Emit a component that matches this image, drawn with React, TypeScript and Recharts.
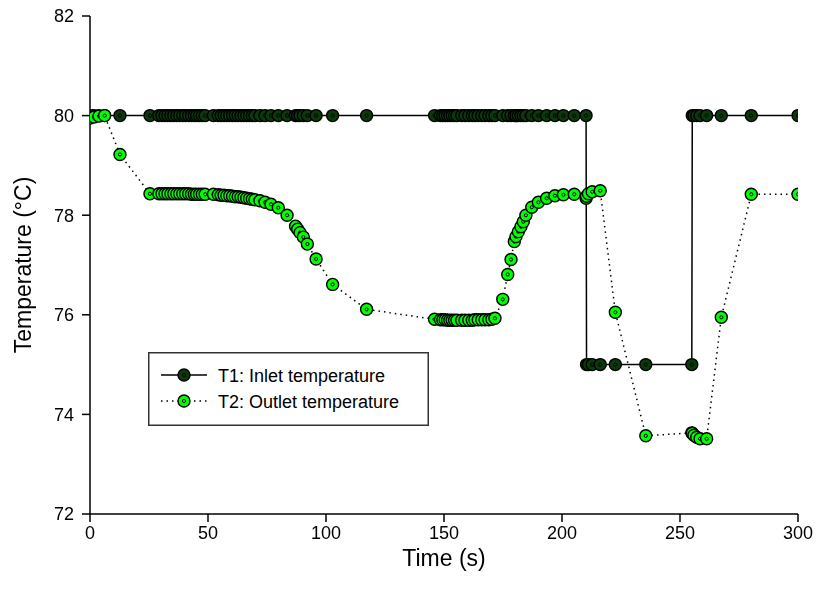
import React from 'react';
import { LineChart, Line, XAxis, YAxis, Legend, Label } from 'recharts';

// Shared sampling times (s)
const times = [
  0, 1.7, 3.8, 6.2, 12.7, 25.4,
  29.2, 30.5, 31.8, 33.0, 34.3, 35.5, 36.8, 38.0, 39.3, 40.5, 41.8, 43.0, 44.2, 45.2, 46.4, 47.6, 48.8,
  52.3,
  54.4, 55.6, 56.8, 58.0, 59.2, 60.4, 61.6, 62.8, 64.0, 65.2, 66.4, 67.6, 68.8, 69.9,
  72.0, 74.2, 76.7, 79.8, 83.5, 87.1, 88.0, 89.0, 90.4, 92.1, 95.8, 102.8, 117.2,
  146.0, 148.5, 149.5, 150.5, 151.5, 152.5, 153.5, 154.5, 155.5, 157.5, 158.9, 160.5, 162.0, 163.1, 164.5, 166.0, 167.4, 169.0, 170.3, 171.6,
  174.9, 177.0, 178.4, 179.8, 180.5, 181.5, 182.6, 183.6, 184.7, 187.2, 190.0, 193.5, 197.0, 200.6, 205.2, 210.2,
  210.4, 211.2, 212.8, 216.2, 222.6, 235.5, 255.0,
  255.2, 255.9, 257.1, 258.5, 261.3, 267.5, 280.2, 300,
];

// T1: Inlet temperature (°C)
const inletTemps = [
  80, 80, 80, 80, 80, 80,
  80, 80, 80, 80, 80, 80, 80, 80, 80, 80, 80, 80, 80, 80, 80, 80, 80,
  80,
  80, 80, 80, 80, 80, 80, 80, 80, 80, 80, 80, 80, 80, 80,
  80, 80, 80, 80, 80, 80, 80, 80, 80, 80, 80, 80, 80,
  80, 80, 80, 80, 80, 80, 80, 80, 80, 80, 80, 80, 80, 80, 80, 80, 80, 80, 80, 80,
  80, 80, 80, 80, 80, 80, 80, 80, 80, 80, 80, 80, 80, 80, 80, 80,
  75, 75, 75, 75, 75, 75, 75,
  80, 80, 80, 80, 80, 80, 80, 80,
];

// T2: Outlet temperature (°C)
const outletTemps = [
  79.95, 79.97, 79.99, 80.0, 79.22, 78.43,
  78.43, 78.43, 78.43, 78.43, 78.43, 78.43, 78.43, 78.43, 78.43, 78.43, 78.43, 78.42, 78.42, 78.42, 78.42, 78.42, 78.42,
  78.42,
  78.41, 78.40, 78.40, 78.39, 78.39, 78.38, 78.37, 78.37, 78.36, 78.35, 78.34, 78.33, 78.32, 78.31,
  78.29, 78.26, 78.22, 78.15, 78.0, 77.78, 77.72, 77.65, 77.56, 77.42, 77.12, 76.61, 76.11,
  75.91, 75.9, 75.9, 75.9, 75.89, 75.89, 75.89, 75.89, 75.89, 75.89, 75.89, 75.89, 75.89, 75.9, 75.9, 75.9, 75.9, 75.9, 75.91, 75.93,
  76.31, 76.81, 77.11, 77.47, 77.57, 77.67, 77.77, 77.87, 78.0, 78.16, 78.26, 78.34, 78.39, 78.41, 78.42, 78.34,
  78.38, 78.43, 78.47, 78.49, 76.05, 73.57, 73.63,
  73.62, 73.58, 73.54, 73.51, 73.51, 75.95, 78.42, 78.42,
];

const xTicks = [0, 50, 100, 150, 200, 250, 300];
const yTicks = [72, 74, 76, 78, 80, 82];
const seriesNames = ['T1: Inlet temperature', 'T2: Outlet temperature'];
const xTitle = 'Time (s)';
const yTitle = 'Temperature (°C)';

const data = times.map((t, i) => ({ time: t, t1: inletTemps[i], t2: outletTemps[i] }));

const T1_COLOR = '#0a3a0a';
const T2_COLOR = '#00ff00';
const FONT = '"Liberation Sans", Arial, Helvetica, sans-serif';

function Marker({ cx, cy, fill }: { cx: number; cy: number; fill: string }) {
  return (
    <g>
      <circle cx={cx} cy={cy} r={6} fill={fill} stroke="#000" strokeWidth={1.4} />
      <circle cx={cx} cy={cy} r={1.6} fill="none" stroke="#000" strokeWidth={1} />
    </g>
  );
}

const makeDot = (fill: string, prefix: string) => (props: any) => {
  const { cx, cy, index } = props;
  if (cx == null || cy == null) return <g key={`${prefix}-${index}`} />;
  return (
    <g key={`${prefix}-${index}`}>
      <Marker cx={cx} cy={cy} fill={fill} />
    </g>
  );
};

function LegendBox() {
  const rows = [
    { name: seriesNames[0], fill: T1_COLOR, dash: undefined as string | undefined },
    { name: seriesNames[1], fill: T2_COLOR, dash: '1.5 4' },
  ];
  return (
    <svg width={281} height={74} style={{ display: 'block' }}>
      <rect x={0.75} y={0.75} width={279.5} height={72.5} fill="#fff" stroke="#333" strokeWidth={1.5} />
      {rows.map((r, i) => {
        const cy = 23 + i * 26;
        return (
          <g key={r.name}>
            <line x1={13} x2={59} y1={cy} y2={cy} stroke="#000" strokeWidth={1.5} strokeDasharray={r.dash} />
            <Marker cx={36} cy={cy} fill={r.fill} />
            <text x={70} y={cy + 6.5} fontSize={18} fontFamily={FONT} fill="#000">
              {r.name}
            </text>
          </g>
        );
      })}
    </svg>
  );
}

export default function App() {
  return (
    <div style={{ position: 'fixed', left: 8, top: 0, width: 809, height: 588, fontFamily: FONT, overflow: 'visible' }}>
      <LineChart
        width={809}
        height={588}
        data={data}
        margin={{ top: 16, right: 19, bottom: 6, left: 0 }}
        style={{ overflow: 'visible' }}
      >
        <XAxis
          dataKey="time"
          type="number"
          domain={[0, 300]}
          ticks={xTicks}
          allowDataOverflow
          height={68}
          tickSize={8}
          tickMargin={4}
          interval={0}
          axisLine={{ stroke: '#000', strokeWidth: 1.5 }}
          tickLine={{ stroke: '#000', strokeWidth: 1.5 }}
          tick={{ fill: '#000', fontSize: 18, fontFamily: FONT }}
        >
          <Label
            content={(p: any) => {
              const vb = p.viewBox || {};
              return (
                <text x={vb.x + vb.width / 2} y={vb.y + 52} textAnchor="middle" fontSize={23} fontFamily={FONT} fill="#000">
                  {xTitle}
                </text>
              );
            }}
          />
        </XAxis>
        <XAxis
          xAxisId="top"
          orientation="top"
          type="number"
          domain={[0, 300]}
          height={0}
          tick={false}
          tickLine={false}
          axisLine={{ stroke: '#000', strokeWidth: 1.5 }}
        />
        <YAxis
          type="number"
          domain={[72, 82]}
          ticks={yTicks}
          allowDataOverflow
          width={82}
          tickSize={8}
          tickMargin={8}
          interval={0}
          axisLine={{ stroke: '#000', strokeWidth: 1.5 }}
          tickLine={{ stroke: '#000', strokeWidth: 1.5 }}
          tick={{ fill: '#000', fontSize: 18, fontFamily: FONT }}
        >
          <Label
            content={(p: any) => {
              const vb = p.viewBox || {};
              const cx = 23;
              const cy = vb.y + vb.height / 2;
              return (
                <text
                  x={cx}
                  y={cy}
                  transform={`rotate(-90 ${cx} ${cy})`}
                  textAnchor="middle"
                  fontSize={23}
                  fontFamily={FONT}
                  fill="#000"
                >
                  {yTitle}
                </text>
              );
            }}
          />
        </YAxis>
        <YAxis
          yAxisId="right"
          orientation="right"
          type="number"
          domain={[72, 82]}
          width={0}
          tick={false}
          tickLine={false}
          axisLine={{ stroke: '#000', strokeWidth: 1.5 }}
        />
        <Legend
          layout="vertical"
          align="center"
          verticalAlign="middle"
          wrapperStyle={{ left: 140, top: 352, width: 281, height: 74 }}
          content={() => <LegendBox />}
        />
        <Line
          dataKey="t1"
          name={seriesNames[0]}
          type="linear"
          stroke="#000"
          strokeWidth={1.5}
          dot={makeDot(T1_COLOR, 't1')}
          activeDot={false}
          isAnimationActive={false}
        />
        <Line
          dataKey="t2"
          name={seriesNames[1]}
          type="linear"
          stroke="#000"
          strokeWidth={1.5}
          strokeDasharray="1.5 4"
          dot={makeDot(T2_COLOR, 't2')}
          activeDot={false}
          isAnimationActive={false}
        />
      </LineChart>
    </div>
  );
}
